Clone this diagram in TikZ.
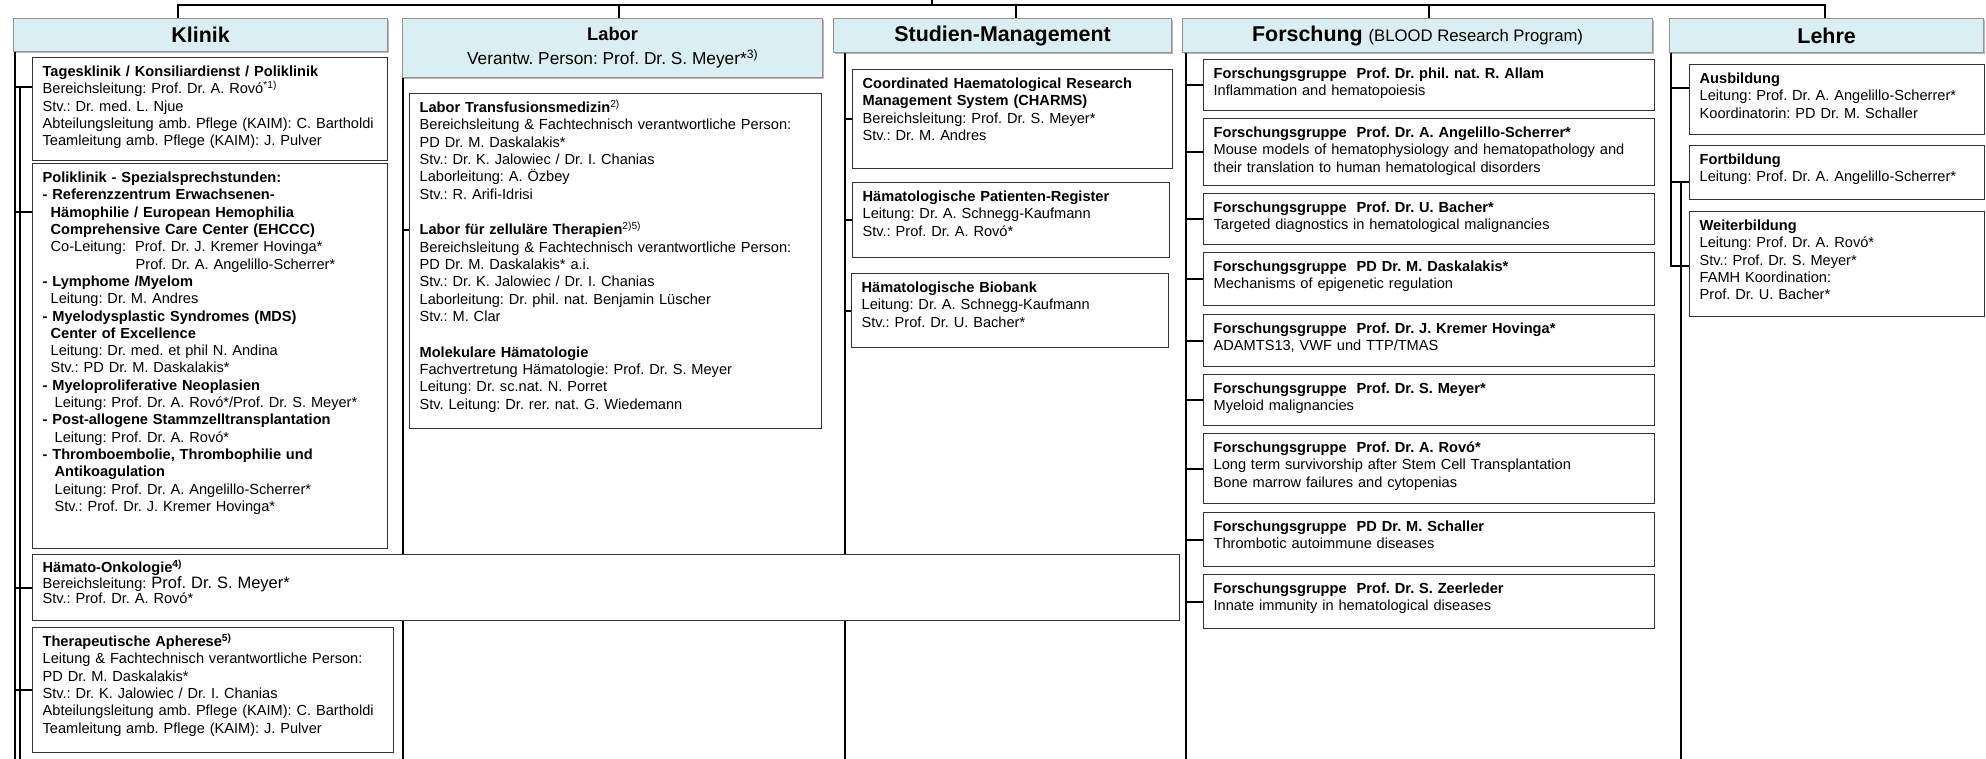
\documentclass[tikz,border=0pt]{standalone}
\usepackage{fontspec}
\setmainfont{Liberation Sans}
\usetikzlibrary{shadows}
\definecolor{headblue}{RGB}{219,238,244}
\newcommand{\bodytxt}{\fontsize{14.6}{17.3}\selectfont\frenchspacing}
\newcommand{\headtxt}{\fontsize{21.4}{24}\selectfont\bfseries\frenchspacing}
\tikzset{
  head/.style={draw=gray!85, line width=1.2pt, fill=headblue, anchor=north west, inner sep=0pt, align=center, font=\headtxt,
    drop shadow={shadow xshift=1.5pt, shadow yshift=-1.5pt, fill=gray!80, opacity=0.7}},
  unit/.style={draw=black!80, line width=1.3pt, fill=white, anchor=north west, align=left, inner xsep=10pt, inner ysep=0pt,
    text height=19pt, font=\bodytxt},
  link/.style={line width=2.2pt},
}
\begin{document}
\begin{tikzpicture}[x=1pt, y=-1pt]
    \useasboundingbox (0,0) rectangle (1986,759);
    \node[head, minimum width=374pt, minimum height=33pt] (klinik) at (13,18) {Klinik};
    \node[head, minimum width=420pt, minimum height=59pt, font=\fontsize{18.3}{24}\selectfont\bfseries\frenchspacing] (labor) at (402,18)
        {Labor\\{\mdseries\fontsize{17.3}{24}\selectfont Verantw.\ Person: Prof. Dr. S. Meyer*\textsuperscript{3)}}};
    \node[head, minimum width=338pt, minimum height=34pt] (studien) at (833,18) {Studien-Management};
    \node[head, minimum width=470pt, minimum height=34pt] (forschung) at (1182,18)
        {Forschung {\mdseries\fontsize{16.7}{20}\selectfont (BLOOD Research Program)}};
    \node[head, minimum width=314pt, minimum height=34pt] (lehre) at (1669,18) {Lehre};
    \coordinate (chief) at (932,0);
    \coordinate (dk) at (178,5);
    \coordinate (dl) at (619,5);
    \coordinate (ds) at (1016,5);
    \coordinate (df) at (1429,5);
    \coordinate (dt) at (1825,5);
    \draw[link] (chief) -- (chief |- dk);
    \draw[link] (dk |- klinik.north) -- (dk) -- (dt) -- (dt |- lehre.north);
    \draw[link] (dl) -- (dl |- labor.north);
    \draw[link] (ds) -- (ds |- studien.north);
    \draw[link] (df) -- (df |- forschung.north);
    \coordinate (kb1) at (15,759);
    \coordinate (kb2) at (20,759);
    \coordinate (lb) at (403,759);
    \coordinate (sb) at (845,759);
    \coordinate (fb) at (1186,759);
    \coordinate (tb) at (1671,52);
    \coordinate (tb2) at (1681,759);
    \draw[link] (kb1 |- klinik.south) -- (kb1);
    \draw[link] (lb |- labor.south) -- (lb);
    \draw[link] (sb |- studien.south) -- (sb);
    \draw[link] (fb |- forschung.south) -- (fb);

    \node[unit, text width=335pt, text depth=84pt] (tages) at (32,57)
        {\textbf{Tagesklinik / Konsiliardienst / Poliklinik}\\
         Bereichsleitung: Prof. Dr. A. Rovó\textsuperscript{*1)}\\
         Stv.: Dr. med. L. Njue\\
         Abteilungsleitung amb. Pflege (KAIM): C. Bartholdi\\
         Teamleitung amb. Pflege (KAIM): J. Pulver};
    \node[unit, text width=335pt, text depth=366pt] (poli) at (32,163)
        {\textbf{Poliklinik - Spezialsprechstunden:}\\
         \textbf{- Referenzzentrum Erwachsenen-}\\
         \hspace*{8pt}\textbf{Hämophilie / European Hemophilia}\\
         \hspace*{8pt}\textbf{Comprehensive Care Center (EHCCC)}\\
         \hspace*{8pt}Co-Leitung:\hspace{9pt}Prof. Dr. J. Kremer Hovinga*\\
         \hspace*{93pt}Prof. Dr. A. Angelillo-Scherrer*\\
         \textbf{- Lymphome /Myelom}\\
         \hspace*{8pt}Leitung: Dr. M. Andres\\
         \textbf{- Myelodysplastic Syndromes (MDS)}\\
         \hspace*{8pt}\textbf{Center of Excellence}\\
         \hspace*{8pt}Leitung: Dr. med. et phil N. Andina\\
         \hspace*{8pt}Stv.: PD Dr. M. Daskalakis*\\
         \textbf{- Myeloproliferative Neoplasien}\\
         \hspace*{12pt}Leitung: Prof. Dr. A. Rovó*/Prof. Dr. S. Meyer*\\
         \textbf{- Post-allogene Stammzelltransplantation}\\
         \hspace*{12pt}Leitung: Prof. Dr. A. Rovó*\\
         \textbf{- Thromboembolie, Thrombophilie und}\\
         \hspace*{12pt}\textbf{Antikoagulation}\\
         \hspace*{12pt}Leitung: Prof. Dr. A. Angelillo-Scherrer*\\
         \hspace*{12pt}Stv.: Prof. Dr. J. Kremer Hovinga*};
    \node[unit, text width=392pt, text depth=316pt] (labbox) at (409,93)
        {\textbf{Labor Transfusionsmedizin}\textsuperscript{2)}\\
         Bereichsleitung \& Fachtechnisch verantwortliche Person:\\
         PD Dr. M. Daskalakis*\\
         Stv.: Dr. K. Jalowiec / Dr. I. Chanias\\
         Laborleitung: A. Özbey\\
         Stv.: R. Arifi-Idrisi\\[18.5pt]
         \textbf{Labor für zelluläre Therapien}\textsuperscript{2)5)}\\
         Bereichsleitung \& Fachtechnisch verantwortliche Person:\\
         PD Dr. M. Daskalakis* a.i.\\
         Stv.: Dr. K. Jalowiec / Dr. I. Chanias\\
         Laborleitung: Dr. phil. nat. Benjamin Lüscher\\
         Stv.: M. Clar\\[18.5pt]
         \textbf{Molekulare Hämatologie}\\
         Fachvertretung Hämatologie: Prof. Dr. S. Meyer\\
         Leitung: Dr. sc.nat. N. Porret\\
         Stv. Leitung: Dr. rer. nat. G. Wiedemann};
    \node[unit, text width=300pt, text depth=80pt] (charms) at (852,69)
        {\textbf{Coordinated Haematological Research}\\
         \textbf{Management System (CHARMS)}\\
         Bereichsleitung: Prof. Dr. S. Meyer*\\
         Stv.: Dr. M. Andres};
    \node[unit, text width=297pt, text depth=56pt] (register) at (852,182)
        {\textbf{Hämatologische Patienten-Register}\\
         Leitung: Dr. A. Schnegg-Kaufmann\\
         Stv.: Prof. Dr. A. Rovó*};
    \node[unit, text width=297pt, text depth=55pt] (biobank) at (851,273)
        {\textbf{Hämatologische Biobank}\\
         Leitung: Dr. A. Schnegg-Kaufmann\\
         Stv.: Prof. Dr. U. Bacher*};
    \node[unit, text width=1127pt, text height=18pt, text depth=48pt, font=\fontsize{14.6}{15.5}\selectfont\frenchspacing] (haemato) at (32,554)
        {\textbf{Hämato-Onkologie\textsuperscript{4)}}\\
         Bereichsleitung: {\fontsize{16.5}{15.5}\selectfont Prof. Dr. S. Meyer*}\\
         Stv.: Prof. Dr. A. Rovó*};
    \node[unit, text width=341pt, text depth=106pt] (apherese) at (32,627)
        {\textbf{Therapeutische Apherese\textsuperscript{5)}}\\
         Leitung \& Fachtechnisch verantwortliche Person:\\
         PD Dr. M. Daskalakis*\\
         Stv.: Dr. K. Jalowiec / Dr. I. Chanias\\
         Abteilungsleitung amb. Pflege (KAIM): C. Bartholdi\\
         Teamleitung amb. Pflege (KAIM): J. Pulver};
    \node[unit, text width=431pt, text depth=32pt] (fg1) at (1203,59)
        {\textbf{Forschungsgruppe\hspace{10pt}Prof. Dr. phil. nat. R. Allam}\\
         Inflammation and hematopoiesis};
    \node[unit, text width=431pt, text depth=48pt] (fg2) at (1203,118)
        {\textbf{Forschungsgruppe\hspace{10pt}Prof. Dr. A. Angelillo-Scherrer*}\\
         Mouse models of hematophysiology and hematopathology and\\
         their translation to human hematological disorders};
    \node[unit, text width=431pt, text depth=32pt] (fg3) at (1203,193)
        {\textbf{Forschungsgruppe\hspace{10pt}Prof. Dr. U. Bacher*}\\
         Targeted diagnostics in hematological malignancies};
    \node[unit, text width=431pt, text depth=34pt] (fg4) at (1203,252)
        {\textbf{Forschungsgruppe\hspace{10pt}PD Dr. M. Daskalakis*}\\
         Mechanisms of epigenetic regulation};
    \node[unit, text width=431pt, text depth=33pt] (fg5) at (1203,314)
        {\textbf{Forschungsgruppe\hspace{10pt}Prof. Dr. J. Kremer Hovinga*}\\
         ADAMTS13, VWF und TTP/TMAS};
    \node[unit, text width=431pt, text depth=32pt] (fg6) at (1203,374)
        {\textbf{Forschungsgruppe\hspace{10pt}Prof. Dr. S. Meyer*}\\
         Myeloid malignancies};
    \node[unit, text width=431pt, text depth=51pt] (fg7) at (1203,433)
        {\textbf{Forschungsgruppe\hspace{10pt}Prof. Dr. A. Rovó*}\\
         Long term survivorship after Stem Cell Transplantation\\
         Bone marrow failures and cytopenias};
    \node[unit, text width=431pt, text depth=35pt] (fg8) at (1203,512)
        {\textbf{Forschungsgruppe\hspace{10pt}PD Dr. M. Schaller}\\
         Thrombotic autoimmune diseases};
    \node[unit, text width=431pt, text depth=35pt] (fg9) at (1203,574)
        {\textbf{Forschungsgruppe\hspace{10pt}Prof. Dr. S. Zeerleder}\\
         Innate immunity in hematological diseases};
    \node[unit, text width=275pt, text depth=51pt] (ausb) at (1689,64)
        {\textbf{Ausbildung}\\
         Leitung: Prof. Dr. A. Angelillo-Scherrer*\\
         Koordinatorin: PD Dr. M. Schaller};
    \node[unit, text width=275pt, text depth=35pt] (fortb) at (1689,145)
        {\textbf{Fortbildung}\\
         Leitung: Prof. Dr. A. Angelillo-Scherrer*};
    \node[unit, text width=275pt, text depth=86pt] (weiterb) at (1689,211)
        {\textbf{Weiterbildung}\\
         Leitung: Prof. Dr. A. Rovó*\\
         Stv.: Prof. Dr. S. Meyer*\\
         FAMH Koordination:\\
         Prof. Dr. U. Bacher*};

    \coordinate (tagesin) at ([yshift=-30pt]tages.north west);
    \coordinate (poliin) at ([yshift=-49pt]poli.north west);
    \coordinate (labin) at ([yshift=-137pt]labbox.north west);
    \coordinate (ausbin) at ([yshift=-24pt]ausb.north west);
    \coordinate (fortbin) at ([yshift=-37pt]fortb.north west);
    \coordinate (weiterin) at ([yshift=-55pt]weiterb.north west);
    \draw[link] (kb2 |- tagesin) -- (kb2);
    \draw[link] (kb1 |- tagesin) -- (tagesin);
    \draw[link] (kb1 |- poliin) -- (poliin);
    \draw[link] (kb1 |- haemato.west) -- (haemato.west);
    \draw[link] (kb1 |- apherese.west) -- (apherese.west);
    \draw[link] (lb |- labin) -- (labin);
    \draw[link] (sb |- charms.west) -- (charms.west);
    \draw[link] (sb |- register.west) -- (register.west);
    \draw[link] (sb |- biobank.west) -- (biobank.west);
    \draw[link] (fb |- fg1.west) -- (fg1.west);
    \draw[link] (fb |- fg2.west) -- (fg2.west);
    \draw[link] (fb |- fg3.west) -- (fg3.west);
    \draw[link] (fb |- fg4.west) -- (fg4.west);
    \draw[link] (fb |- fg5.west) -- (fg5.west);
    \draw[link] (fb |- fg6.west) -- (fg6.west);
    \draw[link] (fb |- fg7.west) -- (fg7.west);
    \draw[link] (fb |- fg8.west) -- (fg8.west);
    \draw[link] (fb |- fg9.west) -- (fg9.west);
    \draw[link] (tb |- lehre.south) -- (tb |- weiterin) -- (weiterin);
    \draw[link] (tb |- ausbin) -- (ausbin);
    \draw[link] (tb |- fortbin) -- (fortbin);
    \draw[link] (tb2 |- fortbin) -- (tb2);
\end{tikzpicture}
\end{document}
